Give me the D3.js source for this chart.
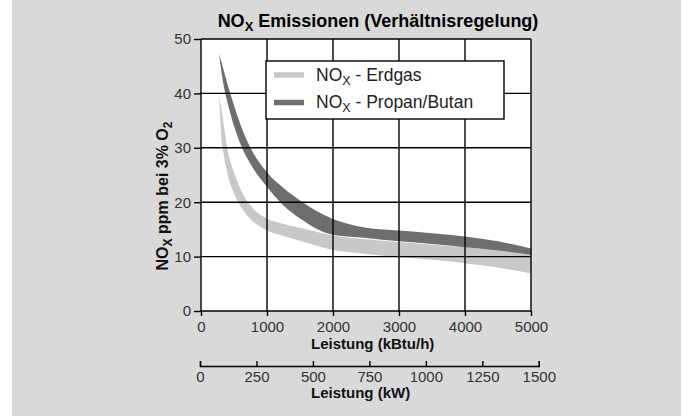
<!DOCTYPE html>
<html>
<head>
<meta charset="utf-8">
<script src="https://cdn.jsdelivr.net/npm/d3@7"></script>
<style>
  html, body { margin: 0; padding: 0; background: #ffffff; }
  svg { display: block; }
  text { font-family: "Liberation Sans", Arial, Helvetica, sans-serif; }
</style>
</head>
<body>
<svg id="chart" width="693" height="416"></svg>
<script>
// ---- data ----
const loadKBtu   = [275, 300, 350, 400, 500, 600, 750, 1000, 1250, 1500, 2000, 2500, 3000, 3500, 4000, 4500, 5000];
const erdgasMax  = [39.7, 37.8, 33.8, 29.8, 25.5, 22.4, 19.4, 17.0, 16.0, 15.3, 13.9, 13.2, 12.7, 12.2, 11.7, 11.1, 10.3];
const erdgasMin  = [39.5, 33.5, 28.4, 25.3, 21.6, 19.2, 16.9, 14.8, 13.8, 12.9, 11.2, 10.5, 9.9, 9.4, 8.8, 8.0, 6.9];
const propanMax  = [47.2, 46.2, 44.0, 41.8, 37.8, 34.2, 30.0, 25.5, 22.6, 20.3, 16.9, 15.3, 14.8, 14.3, 13.7, 12.8, 11.5];
const propanMin  = [47.0, 44.8, 41.0, 38.4, 34.0, 30.6, 27.0, 22.8, 19.4, 17.0, 14.0, 13.4, 12.8, 12.3, 11.7, 11.1, 10.3];
const yTicks     = [0, 10, 20, 30, 40, 50];
const xTicks     = [0, 1000, 2000, 3000, 4000, 5000];
const kwTicks    = [0, 250, 500, 750, 1000, 1250, 1500];
const seriesNames = ["Erdgas", "Propan/Butan"];
const seriesColors = ["#c8c8c8", "#6e6e6e"];
const KBTU_PER_KW = 3.41214;

// ---- layout ----
const svg = d3.select("#chart");
const x = d3.scaleLinear().domain([0, 5000]).range([201, 531]);
const y = d3.scaleLinear().domain([0, 50]).range([311, 39]);
const xkw = d3.scaleLinear().domain([0, 1500]).range([x(0) - 1, x(1500 * KBTU_PER_KW)]);

// background
svg.append("rect").attr("x", 12).attr("y", 0).attr("width", 669).attr("height", 416).attr("fill", "#d9d9d9");
svg.append("rect").attr("x", x(0)).attr("y", y(50)).attr("width", x(5000) - x(0)).attr("height", y(0) - y(50)).attr("fill", "#ffffff");

// bands
const rows = loadKBtu.map((k, i) => ({k, eMin: erdgasMin[i], eMax: erdgasMax[i], pMin: propanMin[i], pMax: propanMax[i]}));
const areaE = d3.area().x(d => x(d.k)).y0(d => y(d.eMin)).y1(d => y(d.eMax)).curve(d3.curveMonotoneX);
const areaP = d3.area().x(d => x(d.k)).y0(d => y(d.pMin)).y1(d => y(d.pMax)).curve(d3.curveMonotoneX);
svg.append("path").datum(rows).attr("d", areaE).attr("fill", seriesColors[0]);
svg.append("path").datum(rows).attr("d", areaP).attr("fill", seriesColors[1]);

// grid
const grid = svg.append("g").attr("stroke", "#000").attr("stroke-width", 1.4);
xTicks.forEach(t => grid.append("line").attr("x1", x(t)).attr("x2", x(t)).attr("y1", y(0)).attr("y2", y(50)));
yTicks.forEach(t => grid.append("line").attr("x1", x(0)).attr("x2", x(5000)).attr("y1", y(t)).attr("y2", y(t)));

// axes
const yAxis = d3.axisLeft(y).tickValues(yTicks).tickSize(7).tickPadding(3);
const gy = svg.append("g").attr("transform", `translate(${x(0)},0)`).call(yAxis);
const xAxis = d3.axisBottom(x).tickValues(xTicks).tickSize(5).tickPadding(5).tickFormat(d3.format("d"));
const gx = svg.append("g").attr("transform", `translate(0,${y(0)})`).call(xAxis);
const kwAxis = d3.axisTop(xkw).tickValues(kwTicks).tickSize(5).tickFormat(d3.format("d"));
const gk = svg.append("g").attr("transform", "translate(0,366)").call(kwAxis);
[gy, gx, gk].forEach(g => {
  g.select(".domain").attr("stroke", "#000").attr("stroke-width", 1.4);
  g.selectAll(".tick line").attr("stroke", "#000").attr("stroke-width", 1.4);
  g.selectAll(".tick text").attr("fill", "#333").attr("font-size", 15)
    .attr("font-family", "'Liberation Sans', Arial, sans-serif");
});
gx.select(".domain").remove();
gy.select(".domain").remove();
gk.selectAll(".tick text").attr("y", 16).attr("dy", 0);
gx.selectAll(".tick text").attr("dy", "0.71em");

// axis titles (left-aligned as in the reference)
svg.append("text").attr("x", 311).attr("y", 349).attr("text-anchor", "start")
  .attr("font-size", 15).attr("font-weight", "bold").attr("fill", "#111").text("Leistung (kBtu/h)");
svg.append("text").attr("x", 311).attr("y", 398).attr("text-anchor", "start")
  .attr("font-size", 15).attr("font-weight", "bold").attr("fill", "#111").text("Leistung (kW)");

// y axis title with subscripts
const yl = svg.append("text").attr("transform", "translate(168,196) rotate(-90)").attr("text-anchor", "middle")
  .attr("font-size", 16).attr("font-weight", "bold").attr("fill", "#111");
yl.append("tspan").text("NO");
yl.append("tspan").attr("font-size", 12).attr("dy", 4).text("X");
yl.append("tspan").attr("dy", -4).text(" ppm bei 3% O");
yl.append("tspan").attr("font-size", 12).attr("dy", 4).text("2");

// title
const tt = svg.append("text").attr("x", 378).attr("y", 27).attr("text-anchor", "middle")
  .attr("font-size", 18).attr("font-weight", "bold").attr("fill", "#000");
tt.append("tspan").text("NO");
tt.append("tspan").attr("font-size", 13).attr("dy", 4).text("X");
tt.append("tspan").attr("dy", -4).text(" Emissionen (Verhältnisregelung)");

// legend
const lg = svg.append("g");
lg.append("rect").attr("x", 266).attr("y", 61).attr("width", 238).attr("height", 58)
  .attr("fill", "#fff").attr("stroke", "#000").attr("stroke-width", 1.4);
seriesNames.forEach((name, i) => {
  const cy = 75 + i * 27.5;
  lg.append("line").attr("x1", 274).attr("x2", 304).attr("y1", cy).attr("y2", cy)
    .attr("stroke", seriesColors[i]).attr("stroke-width", 5.5);
  const t = lg.append("text").attr("x", 316).attr("y", cy + 5.5).attr("font-size", 17.5).attr("fill", "#222");
  t.append("tspan").text("NO");
  t.append("tspan").attr("font-size", 12.5).attr("dy", 4).text("X");
  t.append("tspan").attr("dy", -4).text(" - " + name);
});
</script>
</body>
</html>
